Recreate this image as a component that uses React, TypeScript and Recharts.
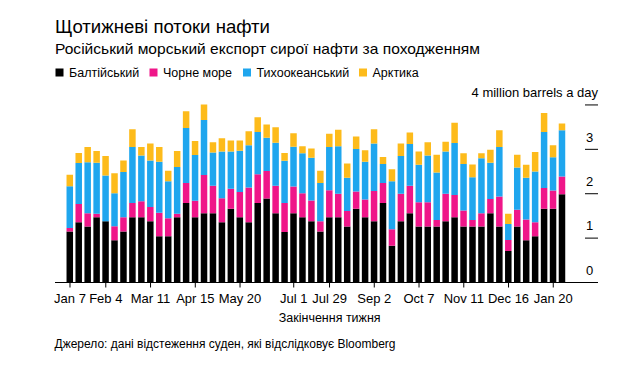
import { BarChart, Bar, XAxis, YAxis } from 'recharts'

// weeks ending (Saturdays), Jan 7 2023 .. Jan 27 2024
const WEEKS = [
  'Jan 7', 'Jan 14', 'Jan 21', 'Jan 28', 'Feb 4', 'Feb 11', 'Feb 18', 'Feb 25',
  'Mar 4', 'Mar 11', 'Mar 18', 'Mar 25', 'Apr 1', 'Apr 8', 'Apr 15', 'Apr 22',
  'Apr 29', 'May 6', 'May 13', 'May 20', 'May 27', 'Jun 3', 'Jun 10', 'Jun 17',
  'Jun 24', 'Jul 1', 'Jul 8', 'Jul 15', 'Jul 22', 'Jul 29', 'Aug 5', 'Aug 12',
  'Aug 19', 'Aug 26', 'Sep 2', 'Sep 9', 'Sep 16', 'Sep 23', 'Sep 30', 'Oct 7',
  'Oct 14', 'Oct 21', 'Oct 28', 'Nov 4', 'Nov 11', 'Nov 18', 'Nov 25', 'Dec 2',
  'Dec 9', 'Dec 16', 'Dec 23', 'Dec 30', 'Jan 6', 'Jan 13', 'Jan 20', 'Jan 27',
]

// million barrels a day
const BALTIC = [
  1.15, 1.36, 1.26, 1.47, 1.38, 0.95, 1.15, 1.47, 1.47, 1.38, 1.04, 1.04, 1.47, 1.79,
  1.47, 1.56, 1.56, 1.36, 1.66, 1.47, 1.36, 1.79, 1.89, 1.56, 1.14, 1.56, 1.47, 1.38,
  1.15, 1.47, 1.47, 1.26, 1.66, 1.47, 1.38, 1.79, 0.83, 1.38, 1.56, 1.26, 1.26, 1.26,
  1.38, 1.47, 1.26, 1.26, 1.26, 1.56, 1.26, 0.71, 1.26, 0.95, 1.04, 1.66, 1.66, 1.99,
]
const BLACK_SEA = [
  0.08, 0.41, 0.3, 0.08, 0.0, 0.32, 0.32, 0.32, 0.36, 0.32, 0.53, 0.41, 0.08, 0.45,
  0.37, 0.86, 0.62, 0.54, 0.45, 0.57, 0.78, 0.65, 0.62, 0.62, 0.65, 0.6, 0.54, 0.47,
  0.23, 0.61, 0.53, 0.35, 0.39, 0.4, 0.68, 0.45, 0.37, 0.62, 0.62, 0.55, 0.55, 0.15,
  0.62, 0.5, 0.36, 0.15, 0.3, 0.32, 0.68, 0.25, 0.38, 0.47, 0.32, 0.47, 0.41, 0.4,
]
const PACIFIC = [
  0.94, 0.92, 1.15, 1.15, 1.03, 0.74, 1.02, 1.26, 1.03, 1.05, 1.15, 0.83, 1.05, 1.24,
  1.03, 1.24, 0.75, 1.05, 0.84, 0.93, 0.95, 0.95, 0.75, 0.97, 0.95, 0.9, 0.9, 0.96,
  0.86, 0.97, 1.07, 0.75, 0.96, 0.85, 1.07, 0.43, 1.08, 0.85, 0.94, 0.84, 1.05, 1.07,
  0.95, 1.17, 1.05, 0.96, 1.24, 0.82, 1.11, 0.36, 0.95, 0.94, 1.14, 1.26, 0.75, 1.04,
]
const ARCTIC = [
  0.26, 0.23, 0.34, 0.26, 0.44, 0.45, 0.26, 0.4, 0.19, 0.38, 0.33, 0.24, 0.36, 0.38,
  0.32, 0.35, 0.23, 0.3, 0.25, 0.23, 0.32, 0.33, 0.3, 0.35, 0.18, 0.3, 0.16, 0.21,
  0.28, 0.3, 0.37, 0.32, 0.28, 0.26, 0.32, 0.16, 0.27, 0.28, 0.26, 0.3, 0.3, 0.4,
  0.22, 0.46, 0.24, 0.29, 0.11, 0.29, 0.38, 0.23, 0.29, 0.29, 0.44, 0.43, 0.27, 0.15,
]

const TICK_LABELS = [
  'Jan 7', 'Feb 4', 'Mar 11', 'Apr 15', 'May 20', 'Jul 1', 'Jul 29',
  'Sep 2', 'Oct 7', 'Nov 11', 'Dec 16', 'Jan 20',
]
const Y_TICKS = [0, 1, 2, 3, 4]

const SERIES = [
  { key: 'baltic', name: 'Балтійський', color: '#000000', legendX: 55.5 },
  { key: 'blackSea', name: 'Чорне море', color: '#ef1689', legendX: 149.5 },
  { key: 'pacific', name: 'Тихоокеанський', color: '#1fa6ee', legendX: 243 },
  { key: 'arctic', name: 'Арктика', color: '#fdbb1b', legendX: 359 },
]

const FONT = '"Liberation Sans", Arial, Helvetica, sans-serif'

const chartData = WEEKS.map((week, i) => ({
  i,
  week,
  baltic: BALTIC[i],
  blackSea: BLACK_SEA[i],
  pacific: PACIFIC[i],
  arctic: ARCTIC[i],
}))

const tickIdx = TICK_LABELS.map((l) => WEEKS.indexOf(l))

function RightTick({ y, payload }: any) {
  const v = payload.value
  return (
    <g>
      <line x1={585} x2={598} y1={y} y2={y} stroke="#000" strokeWidth={1} />
      {v === 4 ? (
        <text x={598} y={y - 8} textAnchor="end" fontSize={13} fill="#000">
          4 million barrels a day
        </text>
      ) : (
        <text x={586} y={y - 7.8} fontSize={13} fill="#000">
          {v}
        </text>
      )}
    </g>
  )
}

export default function App() {
  return (
    <div
      style={{
        position: 'absolute',
        left: 0,
        top: 0,
        width: 640,
        height: 374,
        background: '#fff',
        fontFamily: FONT,
      }}
    >
      <BarChart
        width={640}
        height={374}
        data={chartData}
        margin={{ top: 104.5, right: 7, bottom: 61.5, left: 55 }}
      >
        <XAxis
          type="number"
          dataKey="i"
          domain={[-1.676, 58.44]}
          allowDataOverflow
          ticks={tickIdx}
          interval={0}
          tickFormatter={(v: number) => WEEKS[v]}
          height={30}
          tickSize={5}
          tickMargin={6}
          axisLine={{ stroke: '#000' }}
          tickLine={{ stroke: '#000' }}
          tick={{ fontSize: 13, fill: '#000' }}
        />
        <YAxis
          orientation="right"
          domain={[0, 4]}
          ticks={Y_TICKS}
          interval={0}
          width={40}
          axisLine={false}
          tickLine={false}
          tick={<RightTick />}
        />
        {SERIES.map((s) => (
          <Bar
            key={s.key}
            dataKey={s.key}
            name={s.name}
            stackId="a"
            fill={s.color}
            barSize={6.5}
            isAnimationActive={false}
          />
        ))}
      </BarChart>

      <svg
        width={640}
        height={374}
        style={{ position: 'absolute', left: 0, top: 0, pointerEvents: 'none' }}
      >
        <text
          x={55}
          y={32.5}
          fontSize={17.5}
          fill="#000"
          textLength={215}
          lengthAdjust="spacingAndGlyphs"
        >
          Щотижневі потоки нафти
        </text>
        <text
          x={55}
          y={54.3}
          fontSize={14.2}
          fill="#000"
          textLength={425}
          lengthAdjust="spacingAndGlyphs"
        >
          Російський морський експорт сирої нафти за походженням
        </text>
        {SERIES.map((s) => (
          <g key={s.key}>
            <rect x={s.legendX} y={68.5} width={8} height={8} fill={s.color} />
            <text x={s.legendX + 13.5} y={76.7} fontSize={12.5} fill="#000">
              {s.name}
            </text>
          </g>
        ))}
        <text x={329.7} y={322.3} fontSize={12.5} textAnchor="middle" fill="#000">
          Закінчення тижня
        </text>
        <text x={54.5} y={347.7} fontSize={12} fill="#000">
          Джерело: дані відстеження суден, які відслідковує Bloomberg
        </text>
      </svg>
    </div>
  )
}
